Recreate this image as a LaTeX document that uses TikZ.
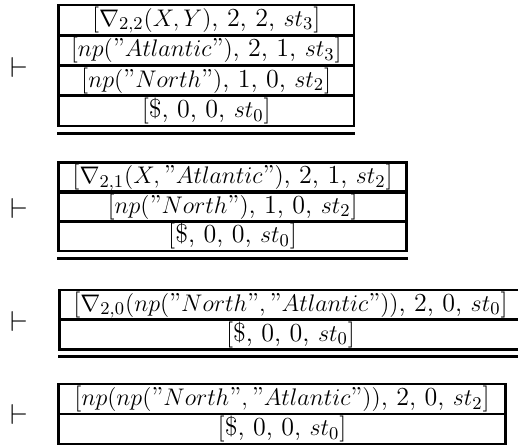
\documentclass[tikz,border=0pt]{standalone}
\newcommand\myq{\mbox{''}}
\begin{document}
\begin{tikzpicture}[x=0.5pt,y=-0.5pt,
  cell/.style={draw, line width=1.3pt, inner sep=0pt, minimum height=15pt,
    font=\fontsize{13}{15}\selectfont, anchor=center},
  dbl/.style={line width=1.5pt},
  turn/.style={font=\fontsize{14}{16}\selectfont, inner sep=0pt}]
\useasboundingbox (0,0) rectangle (518,447);
\clip (0,0) rectangle (518,447);

% stack 1
\begin{scope}[every node/.append style={minimum width=147.75pt, minimum height=15.125pt}]
\node[cell] (a1) at (206.25,20.1)  {[$\nabla_{2,2}(X, Y)$, 2, 2, $st_3$]};
\node[cell] (a2) at (206.25,50.4)  {[$np(\myq Atlantic\myq)$, 2, 1, $st_3$]};
\node[cell] (a3) at (206.25,80.6)  {[$np(\myq North\myq)$, 1, 0, $st_2$]};
\node[cell] (a4) at (206.25,110.9) {[\$, 0, 0, $st_0$]};
\end{scope}
\draw[dbl] ([yshift=-3pt]a4.south west) -- ([yshift=-3pt]a4.south east);
\node[turn] (t1) at (19,67) {$\vdash$};

% stack 2
\begin{scope}[every node/.append style={minimum width=174.1pt, minimum height=14.67pt}]
\node[cell] (b1) at (232.6,177.4) {[$\nabla_{2,1}(X, \myq Atlantic\myq)$, 2, 1, $st_2$]};
\node[cell] (b2) at (232.6,206.7) {[$np(\myq North\myq)$, 1, 0, $st_2$]};
\node[cell] (b3) at (232.6,236.0) {[\$, 0, 0, $st_0$]};
\end{scope}
\draw[dbl] ([yshift=-3pt]b3.south west) -- ([yshift=-3pt]b3.south east);
\node[turn] (t2) at (19,208) {$\vdash$};

% stack 3
\begin{scope}[every node/.append style={minimum width=231pt, minimum height=14.9pt}]
\node[cell] (c1) at (290.5,304.9) {[$\nabla_{2,0}(np(\myq North\myq, \myq Atlantic\myq))$, 2, 0, $st_0$]};
\node[cell] (c2) at (290.5,334.6) {[\$, 0, 0, $st_0$]};
\end{scope}
\draw[dbl] ([yshift=-3pt]c2.south west) -- ([yshift=-3pt]c2.south east);
\node[turn] (t3) at (19,321) {$\vdash$};

% stack 4
\begin{scope}[every node/.append style={minimum width=223.6pt, minimum height=15pt}]
\node[cell] (d1) at (282.1,399) {[$np(np(\myq North\myq, \myq Atlantic\myq))$, 2, 0, $st_2$]};
\node[cell] (d2) at (282.1,429) {[\$, 0, 0, $st_0$]};
\end{scope}
\node[turn] (t4) at (19,414) {$\vdash$};
\end{tikzpicture}
\end{document}
